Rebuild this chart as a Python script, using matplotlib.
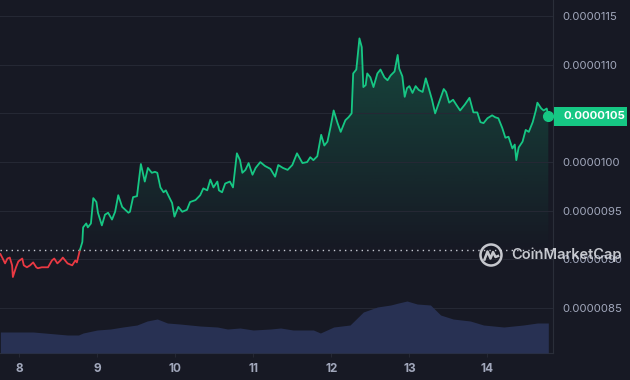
import numpy as np
import matplotlib

matplotlib.use("Agg")
import matplotlib.pyplot as plt
from matplotlib.patches import Circle, Rectangle, Polygon
from matplotlib.transforms import blended_transform_factory

# ---- data (price in units of 1e-7, time in days of the month) --------------
t_days = [
    7.76, 7.79, 7.82, 7.85, 7.88, 7.91, 7.92, 7.96, 7.99, 8.04, 8.06, 8.10, 8.14,
    8.18, 8.22, 8.24, 8.29, 8.33, 8.37, 8.42, 8.45, 8.49, 8.53, 8.56, 8.62, 8.68,
    8.72, 8.74, 8.78, 8.81, 8.82, 8.86, 8.88, 8.92, 8.95, 8.99, 9.01, 9.06, 9.10,
    9.14, 9.19, 9.23, 9.27, 9.32, 9.40, 9.42, 9.46, 9.51, 9.56, 9.61, 9.65, 9.70,
    9.74, 9.77, 9.81, 9.85, 9.88, 9.91, 9.96, 9.99, 10.04, 10.09, 10.15, 10.19,
    10.26, 10.32, 10.36, 10.41, 10.45, 10.49, 10.54, 10.56, 10.60, 10.64, 10.70,
    10.74, 10.79, 10.83, 10.86, 10.90, 10.94, 10.99, 11.03, 11.09, 11.15, 11.22,
    11.28, 11.32, 11.38, 11.44, 11.50, 11.56, 11.63, 11.69, 11.73, 11.77, 11.82,
    11.87, 11.91, 11.95, 11.99, 12.03, 12.08, 12.12, 12.18, 12.22, 12.26, 12.28,
    12.32, 12.36, 12.39, 12.41, 12.44, 12.46, 12.50, 12.54, 12.59, 12.63, 12.68,
    12.72, 12.76, 12.81, 12.85, 12.87, 12.91, 12.94, 12.97, 13.00, 13.04, 13.08,
    13.12, 13.17, 13.21, 13.24, 13.29, 13.33, 13.37, 13.44, 13.47, 13.51, 13.56,
    13.60, 13.65, 13.71, 13.77, 13.82, 13.87, 13.91, 13.95, 14.00, 14.06, 14.10,
    14.14, 14.19, 14.23, 14.27, 14.32, 14.35, 14.37, 14.40, 14.45, 14.49, 14.53,
    14.58, 14.62, 14.64, 14.69, 14.72, 14.76, 14.78,
]
price_e7 = [
    90.56, 90.1, 89.6, 90.1, 90.2, 89.4, 88.2, 89.2, 89.8, 90.1, 89.4, 89.2, 89.4,
    89.7, 89.2, 89.1, 89.2, 89.2, 89.2, 89.9, 90.1, 89.6, 89.9, 90.2, 89.6, 89.4,
    89.9, 89.7, 91.0, 91.8, 93.3, 93.7, 93.3, 93.7, 96.3, 95.9, 94.8, 93.5, 94.6,
    94.8, 94.1, 94.9, 96.6, 95.4, 94.8, 94.9, 96.4, 96.5, 99.8, 98.0, 99.4, 98.9,
    99.0, 98.9, 97.4, 96.9, 97.1, 96.6, 95.8, 94.4, 95.4, 94.9, 95.1, 95.9,
    96.1, 96.6, 97.3, 97.1, 98.2, 97.4, 98.0, 97.1, 96.9, 97.8, 98.0,
    97.4, 100.9, 100.2, 98.9, 99.2, 99.9, 98.7, 99.4, 100.0, 99.6, 99.3,
    98.5, 99.7, 99.4, 99.2, 99.7, 100.9, 99.9, 100.0, 100.5, 100.2, 100.6,
    102.8, 101.7, 102.1, 103.6, 105.3, 104.0, 103.1, 104.3, 104.6, 105.0, 109.1,
    109.5, 112.7, 111.8, 107.7, 107.9, 109.1, 108.7, 107.7, 109.1, 109.5, 108.7,
    108.4, 108.9, 109.3, 111.0, 109.6, 108.8, 106.7, 107.6, 107.8, 107.1, 107.8,
    107.4, 107.2, 108.6, 107.8, 106.4, 105.0, 105.9, 107.5, 107.2, 106.1, 106.4,
    105.9, 105.3, 105.9, 106.6, 105.1, 105.1, 104.1, 104.0, 104.5, 104.8, 104.6,
    104.5, 103.5, 102.5, 102.6, 101.4, 101.8, 100.2, 101.5, 102.1, 103.3, 103.1,
    104.1, 105.3, 106.1, 105.5, 105.3, 105.5, 104.7,
]
baseline_e7 = 91.0  # opening price (dotted line)

vol_t = [
    7.76, 8.18, 8.62, 8.76, 8.82, 9.00, 9.17, 9.33, 9.51, 9.64, 9.77, 9.90, 10.06,
    10.32, 10.54, 10.67, 10.83, 11.00, 11.22, 11.35, 11.51, 11.77, 11.86, 12.03,
    12.24, 12.41, 12.59, 12.76, 12.86, 12.97, 13.10, 13.27, 13.40, 13.56, 13.78,
    13.95, 14.21, 14.46, 14.64, 14.78,
]
vol = [
    21, 21, 18, 18, 20, 23, 24, 26, 28, 32, 34, 30, 29,
    27, 26, 24, 25, 23, 24, 25, 23, 23, 20, 26,
    28, 41, 46, 48, 50, 52, 49, 48, 38, 34, 32,
    28, 26, 28, 30, 30,
]

day_ticks = [8, 9, 10, 11, 12, 13, 14]
price_ticks_e7 = [85, 90, 95, 100, 105, 110, 115]

BG = "#171924"
GRID = "#252834"
GREEN = "#16c784"
RED = "#ea3943"
LABEL = "#a1a7bb"

t = np.array(t_days)
p = np.array(price_e7) * 1e-7
base = baseline_e7 * 1e-7
cross = int(np.argmax(p >= base))

plt.rcParams["font.family"] = ["Inter", "DejaVu Sans"]

fig = plt.figure(figsize=(6.3, 3.8), dpi=100)
fig.patch.set_facecolor(BG)
ax = fig.add_axes([0, 27 / 380, 553 / 630, 353 / 380])
ax.set_facecolor(BG)

# volume on its own hidden scale (twin created first: twinx moves ticks left)
axv = ax.twinx()
axv.fill_between(vol_t, vol, 0, color="#283153", lw=0)
axv.set_ylim(0, 353)
axv.set_yticks([])
for s in axv.spines.values():
    s.set_visible(False)

ylo, yhi = 80.4e-7, 116.64e-7
ax.set_ylim(ylo, yhi)
ax.set_xlim(t[0] - 0.005, 14.84)

# grid + axes cosmetics
ax.set_yticks([v * 1e-7 for v in price_ticks_e7])
ax.set_yticklabels([f"{v * 1e-7:.7f}" for v in price_ticks_e7])
ax.yaxis.tick_right()
ax.tick_params(axis="y", which="both", left=False, labelleft=False,
               right=True, labelright=True,
               length=0, pad=7, labelsize=8.2, labelcolor=LABEL)
ax.grid(axis="y", color=GRID, lw=0.8)
ax.set_xticks(day_ticks)
ax.set_xticklabels([str(d) for d in day_ticks], fontweight="bold")
ax.tick_params(axis="x", length=3, width=0.8, color=GRID, pad=4,
               labelsize=8.5, labelcolor=LABEL)
for s in ("top", "left"):
    ax.spines[s].set_visible(False)
for s in ("right", "bottom"):
    ax.spines[s].set_color("#2a2e39")
    ax.spines[s].set_linewidth(0.8)

# gradient between the green line and the baseline
tg, pg = t[cross:], p[cross:]
ys = np.linspace(ylo, yhi, 256)
alpha = np.clip((ys - base) / (113e-7 - base) * 0.27, 0, 1)
grad = np.zeros((256, 1, 4))
grad[..., 0], grad[..., 1], grad[..., 2] = 22 / 255, 199 / 255, 132 / 255
grad[:, 0, 3] = alpha
img = ax.imshow(grad, aspect="auto", origin="lower",
                extent=[tg[0], tg[-1], ylo, yhi], zorder=1)
poly = Polygon(np.column_stack([np.r_[tg, tg[-1], tg[0]], np.r_[pg, base, base]]),
               closed=True, transform=ax.transData, fc="none", ec="none")
ax.add_patch(poly)
img.set_clip_path(poly)
ax.set_xlim(t[0] - 0.005, 14.84)
ax.set_ylim(ylo, yhi)

ax.axhline(base, color="#c8cbd4", lw=1.0, ls=(0, (1, 3)), zorder=2)
ax.plot(t[:cross + 1], p[:cross + 1], color=RED, lw=1.3, zorder=3)
ax.plot(tg, pg, color=GREEN, lw=1.3, zorder=3)
ax.plot(t[-1], p[-1], "o", color=GREEN, ms=7, zorder=4)

# last-price badge
tr = blended_transform_factory(ax.transAxes, ax.transData)
half = 0.975e-7
ax.add_patch(Rectangle((1.002, p[-1] - half), 73 / 553, 2 * half, transform=tr,
                       fc=GREEN, ec="none", clip_on=False, zorder=5))
ax.text(1 + 10 / 553, p[-1], f"{round(p[-1] * 1e7) * 1e-7:.7f}", transform=tr,
        ha="left", va="center", color="white", fontsize=8.2, fontweight="bold",
        zorder=6, clip_on=False)

# watermark
wm = "#d9dbe1"
fig.patches.append(Circle((4.91, 1.25), 0.105, transform=fig.dpi_scale_trans,
                          fc="none", ec=wm, lw=1.8, alpha=0.9))
mx = np.array([-0.065, -0.035, -0.005, 0.02, 0.045, 0.07])
my = np.array([-0.045, 0.035, -0.035, 0.03, -0.02, -0.01])
fig.lines.append(plt.Line2D(4.91 + mx, 1.25 + my, transform=fig.dpi_scale_trans,
                            color=wm, lw=1.8, alpha=0.9))
fig.text(5.11 / 6.3, 1.25 / 3.8, "CoinMarketCap", ha="left", va="center",
         color=wm, fontsize=10.5, fontweight="semibold", alpha=0.9)

fig.savefig("out.png", dpi=100, facecolor=BG)
